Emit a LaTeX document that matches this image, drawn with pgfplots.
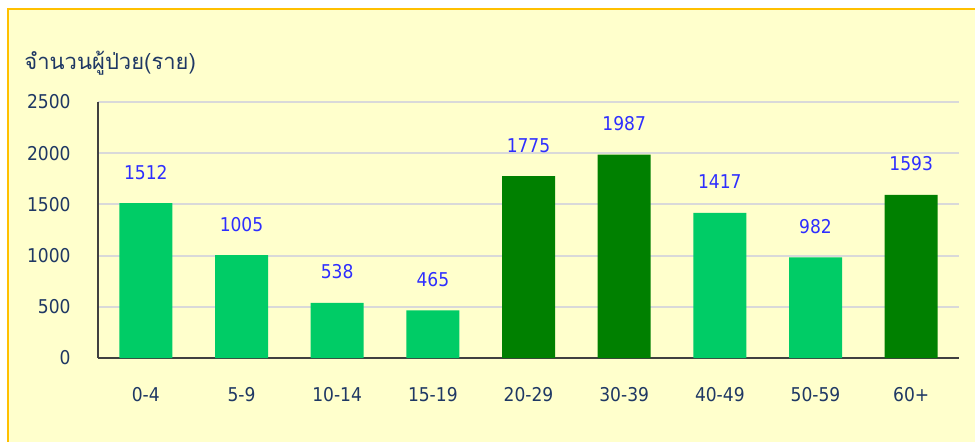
\documentclass[border=0pt]{standalone}
\usepackage{fontspec}
\setmainfont{DejaVu Sans Condensed}
\newfontfamily\thaifont[Script=Thai]{Loma}
\usepackage{pgfplots}
\pgfplotsset{compat=1.18}

\definecolor{bgyellow}{HTML}{FFFFCC}
\definecolor{framegold}{HTML}{FFC000}
\definecolor{lightgreen}{HTML}{00CC66}
\definecolor{darkgreen}{HTML}{008000}
\definecolor{labelblue}{HTML}{2E2EFF}
\definecolor{ticknavy}{HTML}{1F3864}
\definecolor{gridgray}{HTML}{D9D9D9}

\begin{document}
\begin{tikzpicture}
\useasboundingbox (0,0) rectangle (487.5pt,220.5pt);
\begin{scope}
  \clip (0,0) rectangle (487.5pt,220.5pt);
  \fill[white] (0,0) rectangle (487.5pt,220.5pt);
  \filldraw[fill=bgyellow, draw=framegold, line width=1.2pt]
    (4pt,-10pt) rectangle (500pt,216pt);
\end{scope}

\node[anchor=base west, inner sep=0pt, text=ticknavy, font=\thaifont\fontsize{11pt}{13pt}\selectfont]
  at (12pt,186pt) {จำนวนผู้ป่วย(ราย)};

\begin{axis}[
    at={(49pt,41.5pt)}, anchor=south west,
    scale only axis,
    width=430.5pt, height=128pt,
    ybar, bar width=26.5pt, bar shift=0pt,
    xmin=-0.5, xmax=8.5,
    ymin=0, ymax=2500,
    xtick={0,...,8},
    xticklabels={0-4,5-9,10-14,15-19,20-29,30-39,40-49,50-59,60+},
    ytick={0,500,...,2500},
    axis x line=bottom, axis y line=left,
    axis line style={draw=black!75, line width=0.75pt, -},
    ymajorgrids, grid style={draw=gridgray, line width=1pt},
    major tick length=0pt,
    tick style={draw=none},
    tick label style={text=ticknavy, font=\fontsize{9.5pt}{11pt}\selectfont},
    /pgf/number format/assume math mode=true,
    /pgf/number format/set thousands separator={},
    yticklabel style={anchor=east, inner sep=0pt, xshift=-13.5pt},
    xticklabel style={anchor=center, inner sep=0pt, yshift=-18.5pt},
    nodes near coords,
    every node near coord/.append style={anchor=center, yshift=15.5pt, text=labelblue, font=\fontsize{9.5pt}{11pt}\selectfont,
      /pgf/number format/set thousands separator={}},
    clip=false,
]
\addplot[fill=lightgreen, draw=none] coordinates {(0,1512) (1,1005) (2,538) (3,465) (6,1417) (7,982)};
\addplot[fill=darkgreen, draw=none] coordinates {(4,1775) (5,1987) (8,1593)};
\end{axis}
\end{tikzpicture}
\end{document}
